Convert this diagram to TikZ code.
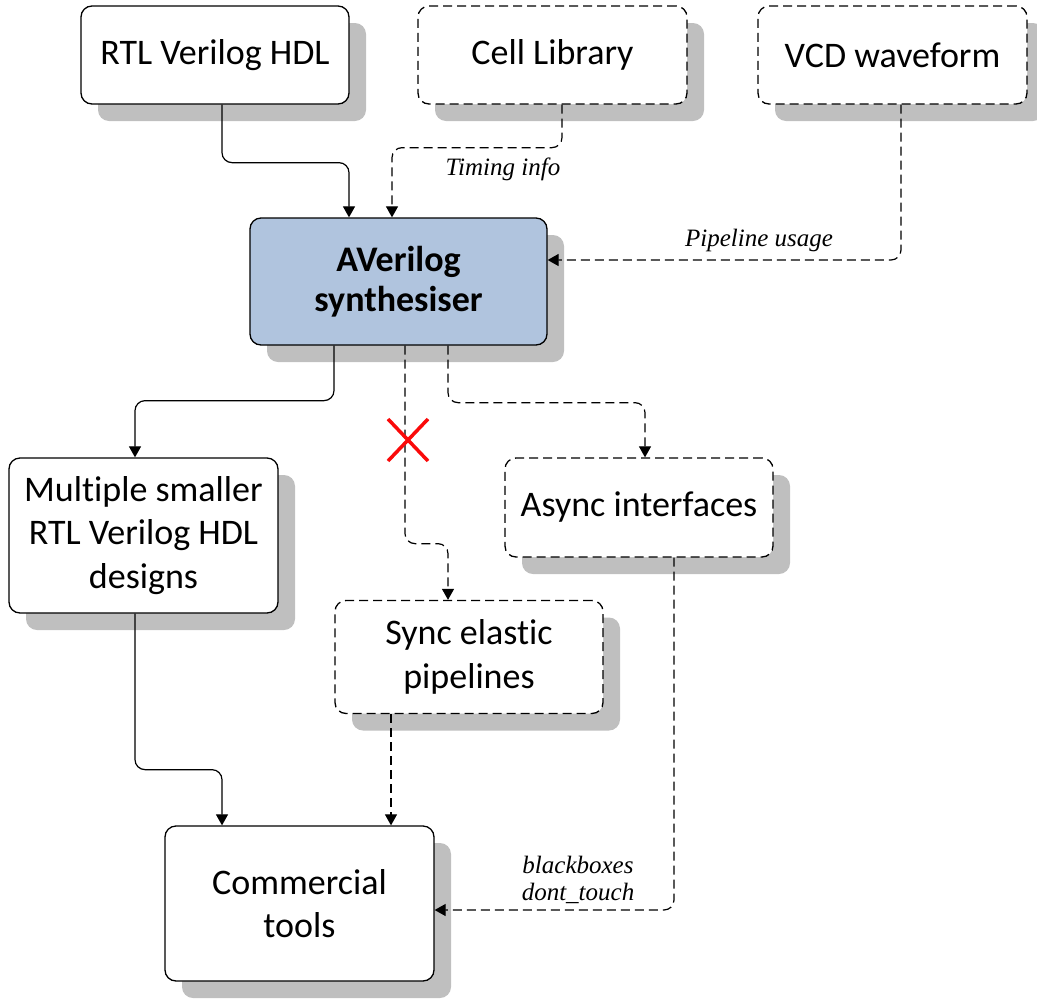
\documentclass[tikz,border=0pt]{standalone}
\usepackage{fontspec}
\setmainfont[Ligatures=NoCommon]{Carlito}
\newfontfamily\notefont{Liberation Serif}
\usetikzlibrary{arrows.meta,shadows,calc}
\definecolor{synfill}{RGB}{176,196,222}
\definecolor{shade}{RGB}{191,191,191}
\definecolor{crossred}{RGB}{250,10,10}
\tikzset{
  block/.style={draw=black, line width=1.3pt, fill=white, rounded corners=11pt,
    align=center, inner sep=0pt, font=\fontsize{36}{43.5}\selectfont,
    drop shadow={shadow xshift=17pt, shadow yshift=-17pt, fill=shade, opacity=1}},
  optblock/.style={block, dash pattern=on 9pt off 5pt},
  wire/.style={draw=black, line width=1.2pt, rounded corners=10pt,
    -{Triangle[length=11pt,width=12pt]}},
  optwire/.style={wire, dash pattern=on 9pt off 5pt},
  note/.style={font=\notefont\itshape\fontsize{25}{27}\selectfont, align=center, inner sep=0pt},
  cross/.style={draw=crossred, line width=3.5pt},
}
\begin{document}
\begin{tikzpicture}[x=1pt, y=-1pt]
\useasboundingbox (0,0) rectangle (1037,1002);

% inputs
\node[block, minimum width=268pt, minimum height=98pt] (rtl) at (215,55) {RTL Verilog HDL};
\node[optblock, minimum width=269pt, minimum height=98pt] (cell) at (552.5,55) {Cell Library};
\node[optblock, minimum width=269pt, minimum height=98pt] (vcd) at (892.5,55) {VCD waveform};

% synthesiser
\node[block, fill=synfill, minimum width=297pt, minimum height=127pt, font=\fontsize{36}{40}\selectfont\bfseries]
  (syn) at (398.5,281.5) {AVerilog\\synthesiser};

% outputs
\node[block, minimum width=269pt, minimum height=155pt] (multi) at (143.5,535.5) {Multiple smaller\\RTL Verilog HDL\\designs};
\node[optblock, minimum width=268pt, minimum height=99pt] (async) at (639,507.5) {Async interfaces};
\node[optblock, minimum width=268pt, minimum height=113pt] (sync) at (469,657) {Sync elastic\\pipelines};
\node[block, minimum width=269pt, minimum height=155pt] (comm) at (299.5,903.5) {Commercial\\tools};

% connectors into the synthesiser
\draw[wire] ([xshift=7pt]rtl.south) -- ++(0,58) -| ([xshift=-49.5pt]syn.north);
\draw[optwire] ([xshift=9.5pt]cell.south) -- ++(0,43) -| ([xshift=-6.5pt]syn.north);
\draw[optwire] ([xshift=8.5pt]vcd.south) |- ([yshift=21.5pt]syn.east);

% connectors out of the synthesiser
\draw[wire] ([xshift=-64.5pt]syn.south) -- ++(0,55) -| ([xshift=-8.5pt]multi.north);
\draw[optwire] ([xshift=6.5pt]syn.south) -- ++(0,198) -| ([xshift=-21pt]sync.north);
\draw[optwire] ([xshift=49.5pt]syn.south) -- ++(0,57) -| ([xshift=6pt]async.north);

% connectors into the commercial tools
\draw[wire] ([xshift=-8.5pt]multi.south) -- ++(0,156) -| ([xshift=-77.5pt]comm.north);
\draw[optwire] ([xshift=-78pt]sync.south) -- ([xshift=91.5pt]comm.north);
\draw[optwire] ([xshift=35pt]async.south) |- ([yshift=-6.5pt]comm.east);

% connector labels
\node[note] (timing) at (503,169) {Timing info};
\node[note] (pipe) at (759,240) {Pipeline usage};
\node[note] (bbox) at (578,880) {blackboxes\\dont\_touch};

% the sync path is ruled out
\coordinate (nogo) at (408,440);
\draw[cross] ([shift={(-20,-21)}]nogo) -- ([shift={(20,21)}]nogo);
\draw[cross] ([shift={(20,-21)}]nogo) -- ([shift={(-20,21)}]nogo);
\end{tikzpicture}
\end{document}
